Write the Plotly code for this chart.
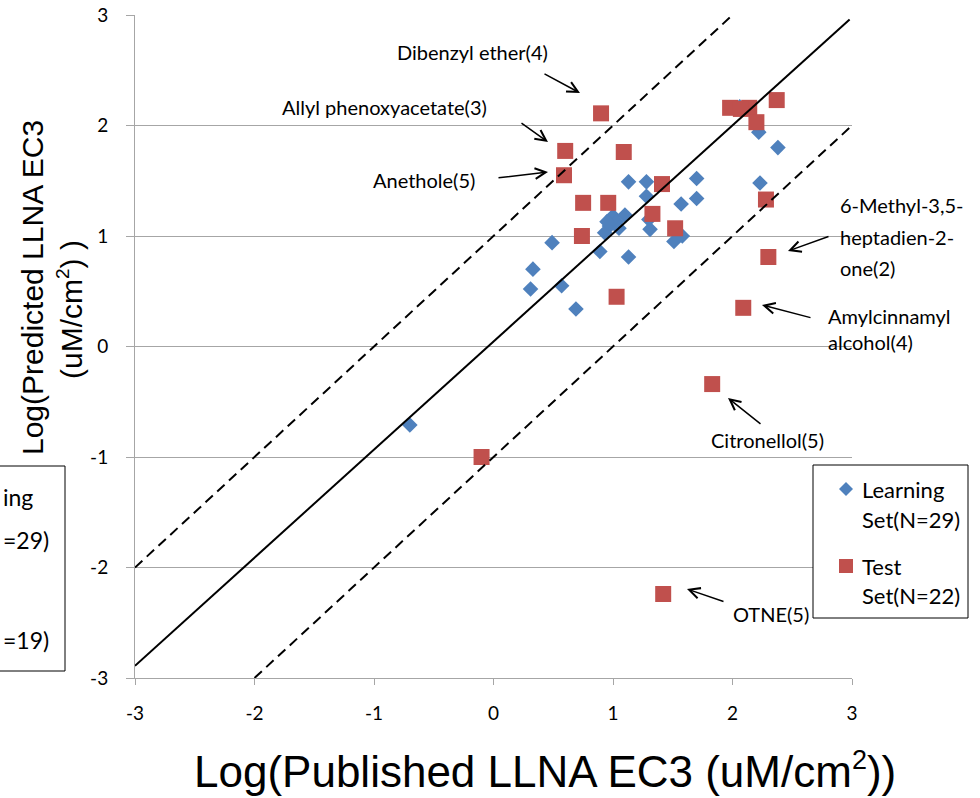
import plotly.graph_objects as go

# ---------------- data ----------------
learn_x = [1.13, 1.28, 1.28, 1.70, 1.70, 1.57, 1.00, 1.10, 0.97, 0.93, 1.30, 1.31, 1.51, 1.58,
           0.89, 1.13, 0.49, 0.33, 0.31, 0.57, 0.69, -0.70, 2.22, 2.38, 2.23, 2.06, 1.03, 0.95, 1.05]
learn_y = [1.49, 1.49, 1.36, 1.52, 1.34, 1.29, 1.18, 1.19, 1.09, 1.03, 1.15, 1.06, 0.95, 1.00,
           0.86, 0.81, 0.94, 0.70, 0.52, 0.55, 0.34, -0.71, 1.94, 1.80, 1.48, 2.17, 1.13, 1.13, 1.07]

test_x = [0.90, 0.60, 0.59, 1.09, 0.75, 0.96, 0.74, 1.41, 1.33, 1.52, 1.03, 1.98, 2.14, 2.20,
          2.37, 2.28, 2.30, 2.09, 1.83, -0.10, 1.42, 2.07]
test_y = [2.11, 1.77, 1.55, 1.76, 1.30, 1.30, 1.00, 1.47, 1.20, 1.07, 0.45, 2.16, 2.16, 2.03,
          2.23, 1.33, 0.81, 0.35, -0.34, -1.00, -2.24, 2.15]

fit_slope = 0.978
fit_intercept = 0.045
fit_x = [-3.0, 2.98]
band = 1.0
upper_x = [-3.0, 2.0]
lower_x = [-2.0, 3.0]

tick_vals = [-3, -2, -1, 0, 1, 2, 3]
tick_text = ["-3", "-2", "-1", "0", "1", "2", "3"]

legend_labels = [["Learning", "Set(N=29)"], ["Test", "Set(N=22)"]]

# ---------------- helpers (pixel <-> data / paper) ----------------
L, R, T, B = 135, 852, 15, 678
W, H = 980, 798


def dx(px):
    return -3 + (px - L) / (R - L) * 6


def dy(py):
    return 3 - (py - T) / (B - T) * 6


def paper_x(px):
    return (px - L) / (R - L)


def paper_y(py):
    return (B - py) / (B - T)


BLUE = "#4F81BD"
RED = "#C0504D"
GRID = "#A6A6A6"
LBL_FONT = "Lato"

fig = go.Figure()

fig.add_trace(go.Scatter(
    x=learn_x, y=learn_y, mode="markers", name="Learning Set(N=29)",
    marker=dict(symbol="diamond", size=12, color=BLUE, line=dict(width=0)),
    showlegend=False))
fig.add_trace(go.Scatter(
    x=test_x, y=test_y, mode="markers", name="Test Set(N=22)",
    marker=dict(symbol="square", size=16, color=RED, line=dict(width=0)),
    showlegend=False))

fig.add_trace(go.Scatter(
    x=fit_x, y=[fit_slope * v + fit_intercept for v in fit_x], mode="lines",
    line=dict(color="black", width=2), showlegend=False, hoverinfo="skip"))
fig.add_trace(go.Scatter(
    x=upper_x, y=[v + band for v in upper_x], mode="lines",
    line=dict(color="black", width=2, dash="10px,6px"), showlegend=False, hoverinfo="skip"))
fig.add_trace(go.Scatter(
    x=lower_x, y=[v - band for v in lower_x], mode="lines",
    line=dict(color="black", width=2, dash="10px,6px"), showlegend=False, hoverinfo="skip"))

shapes = []
annotations = []

# white text box behind the "Allyl phenoxyacetate(3)" label, hiding part of the y=2 gridline
shapes.append(dict(type="rect", xref="paper", yref="paper", layer="below",
                   x0=paper_x(268), x1=paper_x(520), y0=paper_y(135), y1=paper_y(90),
                   fillcolor="white", line=dict(width=0)))


def add_text(txt, cx, cy, xanchor="center", size=20):
    annotations.append(dict(text=txt, x=dx(cx), y=dy(cy), xref="x", yref="y",
                            showarrow=False, xanchor=xanchor, yanchor="middle",
                            font=dict(family=LBL_FONT, size=size, color="black")))


def add_arrow(tx, ty, hx, hy):
    annotations.append(dict(text="", x=dx(hx), y=dy(hy), ax=dx(tx), ay=dy(ty),
                            xref="x", yref="y", axref="x", ayref="y",
                            showarrow=True, arrowhead=5, arrowsize=1.4, arrowwidth=1.5,
                            arrowcolor="black", standoff=0))


add_text("Dibenzyl ether(4)", 472, 52)
add_arrow(543, 73, 580, 93)
add_text("Allyl phenoxyacetate(3)", 384, 107)
add_arrow(520, 122, 548, 142)
add_text("Anethole(5)", 424, 180)
add_arrow(497, 178, 548, 172)
add_text("6-Methyl-3,5-", 838, 205, xanchor="left")
add_text("heptadien-2-", 838, 237, xanchor="left")
add_text("one(2)", 838, 268, xanchor="left")
add_arrow(830, 236, 788, 251)
add_text("Amylcinnamyl", 826, 316, xanchor="left")
add_text("alcohol(4)", 826, 342, xanchor="left")
add_arrow(812, 318, 762, 305)
add_text("Citronellol(5)", 767, 440)
add_arrow(762, 425, 728, 398)
add_text("OTNE(5)", 771, 614)
add_arrow(725, 602, 687, 589)

# legend box (right)
shapes.append(dict(type="rect", xref="paper", yref="paper",
                   x0=paper_x(813), x1=paper_x(968), y0=paper_y(618), y1=paper_y(465),
                   fillcolor="white", line=dict(color="black", width=1)))
shapes.append(dict(type="path", xref="paper", yref="paper", xsizemode="pixel", ysizemode="pixel",
                   xanchor=paper_x(846), yanchor=paper_y(489),
                   path="M -7 0 L 0 7 L 7 0 L 0 -7 Z", fillcolor=BLUE, line=dict(width=0)))
shapes.append(dict(type="rect", xref="paper", yref="paper", xsizemode="pixel", ysizemode="pixel",
                   xanchor=paper_x(846), yanchor=paper_y(566),
                   x0=-7, x1=7, y0=-7, y1=7, fillcolor=RED, line=dict(width=0)))
for (l1, l2), (y1, y2) in zip(legend_labels, [(489, 519), (566, 595)]):
    for txt, yy in ((l1, y1), (l2, y2)):
        annotations.append(dict(text=txt, x=paper_x(860), y=paper_y(yy), xref="paper", yref="paper",
                                showarrow=False, xanchor="left", yanchor="middle",
                                font=dict(family=LBL_FONT, size=22, color="black")))

# partial box at far left (cropped legend of another panel)
shapes.append(dict(type="rect", xref="paper", yref="paper",
                   x0=paper_x(-10), x1=paper_x(65), y0=paper_y(671), y1=paper_y(466),
                   fillcolor="white", line=dict(color="black", width=1)))
for txt, yy in (("ing", 497), ("=29)", 540), ("=19)", 640)):
    annotations.append(dict(text=txt, x=paper_x(1), y=paper_y(yy), xref="paper", yref="paper",
                            showarrow=False, xanchor="left", yanchor="middle",
                            font=dict(family=LBL_FONT, size=23, color="black")))

# axis titles
annotations.append(dict(text="Log(Published LLNA EC3 (uM/cm<sup><span style='font-size:27px'>2</span></sup>))",
                        x=paper_x(545), y=paper_y(770), xref="paper", yref="paper",
                        showarrow=False, xanchor="center", yanchor="middle",
                        font=dict(family="Liberation Sans, Arial", size=44, color="black")))
annotations.append(dict(text="Log(Predicted LLNA EC3",
                        x=paper_x(32), y=paper_y(288), xref="paper", yref="paper",
                        showarrow=False, xanchor="center", yanchor="middle", textangle=-90,
                        font=dict(family="Liberation Sans, Arial", size=30, color="black")))
annotations.append(dict(text="(uM/cm<sup><span style='font-size:19px'>2</span></sup>) )",
                        x=paper_x(70), y=paper_y(310), xref="paper", yref="paper",
                        showarrow=False, xanchor="center", yanchor="middle", textangle=-90,
                        font=dict(family="Liberation Sans, Arial", size=30, color="black")))

fig.update_layout(
    width=W, height=H,
    margin=dict(l=L, r=W - R, t=T, b=H - B, pad=0, autoexpand=False),
    paper_bgcolor="white", plot_bgcolor="white",
    showlegend=False,
    shapes=shapes, annotations=annotations,
    xaxis=dict(range=[-3, 3], tickvals=tick_vals, ticktext=tick_text, automargin=False,
               showgrid=False, zeroline=False, showline=True, linecolor=GRID, linewidth=1,
               ticks="outside", ticklen=6, tickcolor=GRID, ticklabelstandoff=12,
               tickfont=dict(family=LBL_FONT, size=19, color="black")),
    yaxis=dict(range=[-3, 3], tickvals=tick_vals, ticktext=tick_text, automargin=False,
               showgrid=True, gridcolor=GRID, gridwidth=1, zeroline=False,
               showline=True, linecolor=GRID, linewidth=1,
               ticks="outside", ticklen=8, tickcolor=GRID, ticklabelstandoff=14,
               tickfont=dict(family=LBL_FONT, size=19, color="black")),
)

fig.write_html("out.html", config={"displayModeBar": False},
               post_script="document.body.style.margin='0px';document.body.style.overflow='hidden';")
